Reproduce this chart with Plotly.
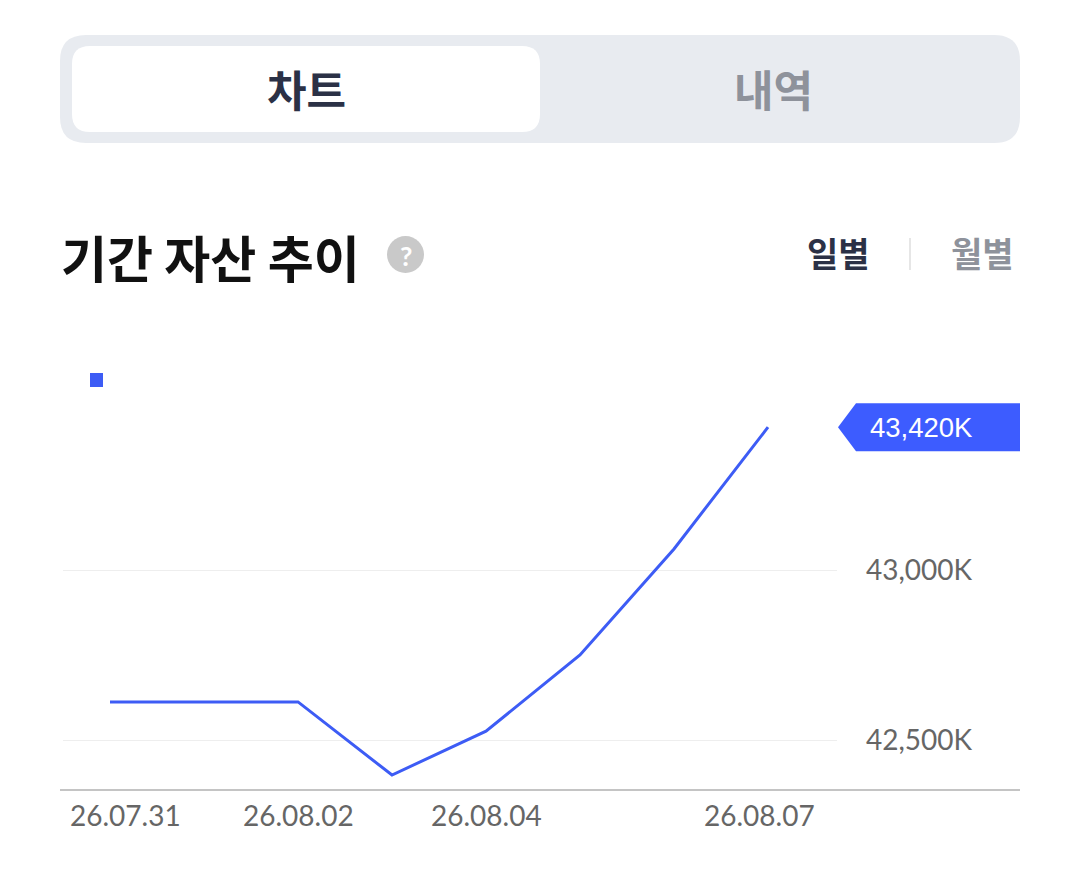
import plotly.graph_objects as go

# data
dates = ["26.07.31", "26.08.01", "26.08.02", "26.08.03", "26.08.04", "26.08.05", "26.08.06", "26.08.07"]
assets_k = [42612, 42612, 42612, 42397, 42526, 42750, 43062, 43420]
y_ticks = [42500, 43000]
y_labels = ["42,500K", "43,000K"]
x_ticks = ["26.07.31", "26.08.02", "26.08.04", "26.08.07"]
x_tick_shift = [15, 0, 0, -9]  # edge labels are pulled inside the chart

# the page body adds an 8px margin, so screen pixels are shifted by OFF
OFF = 8
W, H = 1080, 883
BLUE = "#3d5cf5"
NAVY = "#2b3146"
GREY = "#8e929b"
KR = "Noto Sans CJK KR"


def px(x):
    return (x - OFF) / W


def py(y):
    return 1 - (y - OFF) / H


def round_rect(x0, y0, x1, y1, r):
    # rounded rectangle path in paper coords, given screen pixels
    pts = [
        "M %f,%f" % (px(x0 + r), py(y0)),
        "L %f,%f" % (px(x1 - r), py(y0)),
        "Q %f,%f %f,%f" % (px(x1), py(y0), px(x1), py(y0 + r)),
        "L %f,%f" % (px(x1), py(y1 - r)),
        "Q %f,%f %f,%f" % (px(x1), py(y1), px(x1 - r), py(y1)),
        "L %f,%f" % (px(x0 + r), py(y1)),
        "Q %f,%f %f,%f" % (px(x0), py(y1), px(x0), py(y1 - r)),
        "L %f,%f" % (px(x0), py(y0 + r)),
        "Q %f,%f %f,%f" % (px(x0), py(y0), px(x0 + r), py(y0)),
        "Z",
    ]
    return " ".join(pts)


fig = go.Figure()
fig.add_trace(go.Scatter(
    x=dates, y=assets_k, mode="lines",
    line=dict(color=BLUE, width=3),
    hoverinfo="skip", showlegend=False,
))

shapes = [
    # tab background
    dict(type="path", xref="paper", yref="paper", path=round_rect(60, 35, 1020, 143, 26),
         fillcolor="#e8ebf0", line_width=0, layer="below"),
    dict(type="path", xref="paper", yref="paper", path=round_rect(72, 46, 540, 132, 18),
         fillcolor="white", line_width=0, layer="below"),
    # question mark circle
    dict(type="circle", xref="paper", yref="paper", x0=px(387), x1=px(424), y0=py(273), y1=py(236),
         fillcolor="#c9c9c9", line_width=0),
    # separator
    dict(type="line", xref="paper", yref="paper", x0=px(910), x1=px(910), y0=py(238), y1=py(270),
         line=dict(color="#e6e6e6", width=2)),
    # legend square
    dict(type="rect", xref="paper", yref="paper", x0=px(90), x1=px(103), y0=py(387), y1=py(373),
         fillcolor=BLUE, line_width=0),
    # bottom axis line
    dict(type="line", xref="paper", yref="paper", x0=px(60), x1=px(1020), y0=py(790), y1=py(790),
         line=dict(color="#c4c4c4", width=2)),
    # price tag
    dict(type="path", xref="paper", yref="y", ysizemode="pixel", yanchor=assets_k[-1],
         path="M %f,0 L %f,24 L %f,24 L %f,-24 L %f,-24 Z" % (px(838), px(856), px(1020), px(1020), px(856)),
         fillcolor="#3d5cff", line_width=0),
]

annotations = [
    dict(text="<b>차트</b>", x=px(306), y=py(88), font=dict(size=43, color=NAVY, family=KR)),
    dict(text="<b>내역</b>", x=px(773), y=py(88), font=dict(size=43, color=GREY, family=KR)),
    dict(text="<b>기간 자산 추이</b>", x=px(59), y=py(256), xanchor="left",
         font=dict(size=50, color="#111111", family=KR)),
    dict(text="<b>?</b>", x=px(405.5), y=py(255), font=dict(size=27, color="white", family="Lato")),
    dict(text="<b>일별</b>", x=px(838), y=py(253), font=dict(size=34, color=NAVY, family=KR)),
    dict(text="<b>월별</b>", x=px(982), y=py(253), font=dict(size=34, color=GREY, family=KR)),
    dict(text=f"{assets_k[-1]:,}K", x=px(921), y=assets_k[-1], yref="y",
         font=dict(size=27.5, color="white", family="Liberation Sans")),
]
# x tick labels, placed on the category axis
for lab, sh in zip(x_ticks, x_tick_shift):
    annotations.append(dict(text=lab, x=lab, xref="x", y=py(815), xshift=sh,
                            font=dict(family="Lato", size=28, color="#666666")))
for a in annotations:
    a.setdefault("xref", "paper")
    a.setdefault("yref", "paper")
    a.setdefault("showarrow", False)
    a.setdefault("xanchor", "center")
    a.setdefault("yanchor", "middle")

px_per_k = 170 / 500
y_bottom = 42500 - (790 - 740) / px_per_k
y_top = 43000 + (570 - 330) / px_per_k

fig.update_layout(
    width=W, height=H,
    margin=dict(l=0, r=0, t=0, b=0),
    paper_bgcolor="white", plot_bgcolor="white",
    shapes=shapes, annotations=annotations,
    xaxis=dict(
        domain=[px(63), px(837)],
        type="category",
        range=[-0.5, 7 + (837 - 768) / 94],
        showticklabels=False,
        showgrid=False, zeroline=False, showline=False, ticks="",
    ),
    yaxis=dict(
        domain=[py(790), py(330)],
        range=[y_bottom, y_top],
        side="right",
        tickmode="array", tickvals=y_ticks, ticktext=y_labels,
        showgrid=True, gridcolor="#eeeeee", gridwidth=1,
        zeroline=False, showline=False, ticks="",
        tickfont=dict(family="Lato", size=28, color="#666666"),
        ticklabelstandoff=28,
    ),
)

fig.write_html("out.html")
